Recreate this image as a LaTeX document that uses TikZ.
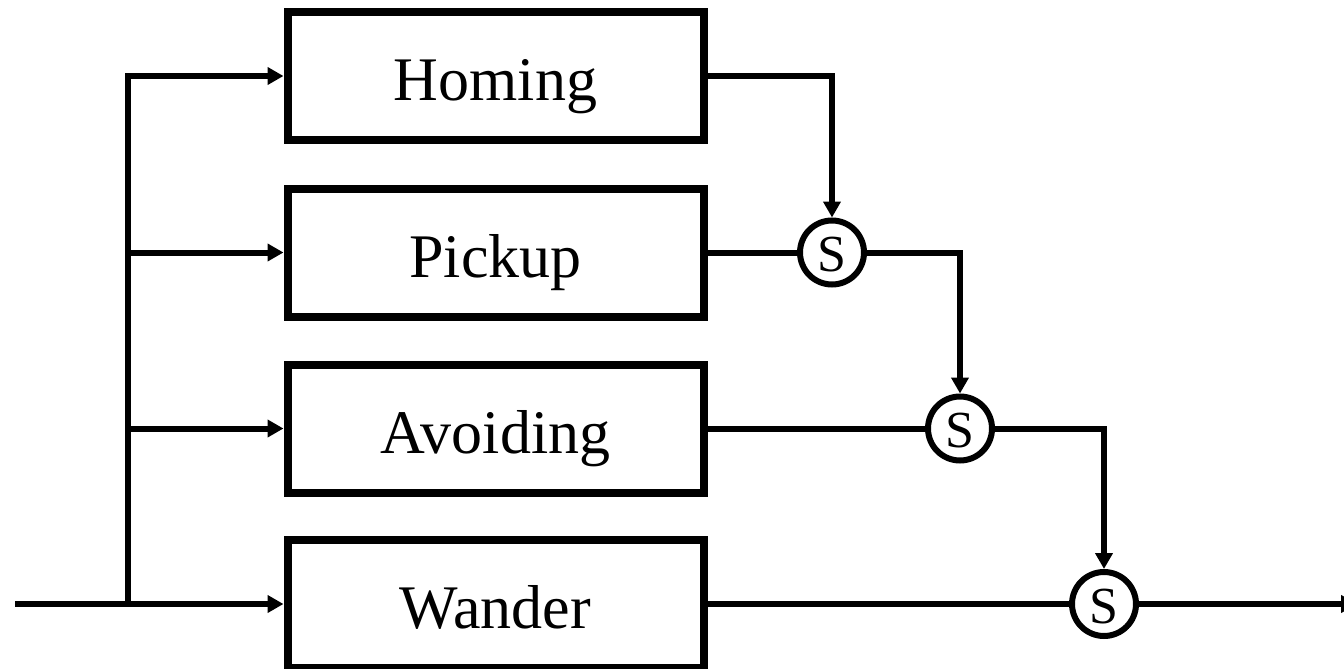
\documentclass[tikz,border=0pt]{standalone}
\usepackage{fontspec}
\setmainfont{Liberation Serif}
\usetikzlibrary{arrows.meta}
\begin{document}
\begin{tikzpicture}[x=1pt,y=-1pt,
  behaviour/.style={draw, line width=8pt, rectangle, minimum width=416pt,
    minimum height=128pt, inner sep=0pt, text height=49pt, text depth=0pt,
    font=\fontsize{62}{70}\selectfont},
  suppress/.style={draw, line width=6pt, circle, minimum size=64pt,
    inner sep=0pt, text height=38pt, text depth=0pt,
    font=\fontsize{52}{60}\selectfont},
  wire/.style={line width=6pt},
  flow/.style={wire, -{Triangle[length=16pt,width=17pt]}}]
\useasboundingbox (0,0) rectangle (1344,669);

% behaviour modules
\node[behaviour] (h) at (495.5,76)    {Homing};
\node[behaviour] (p) at (495.5,252.5) {Pickup};
\node[behaviour] (a) at (495.5,428.5) {Avoiding};
\node[behaviour] (w) at (495.5,604)   {Wander};

% suppression nodes
\node[suppress] (s1) at (832,252.5) {S};
\node[suppress] (s2) at (960,428.5) {S};
\node[suppress] (s3) at (1104,604)  {S};

% sensor input and distribution bus
\coordinate (in)  at (15,604);
\coordinate (bus) at (128,604);
\coordinate (out) at (1357,604);
\draw[flow] (in) -- (w.west);
\draw[flow] (bus) |- (h.west);
\draw[flow] (bus) |- (p.west);
\draw[flow] (bus) |- (a.west);

% suppression chain
\draw[flow] (h.east) -| (s1.north);
\draw[wire] (p.east) -- (s1.west);
\draw[flow] (s1.east) -| (s2.north);
\draw[wire] (a.east) -- (s2.west);
\draw[flow] (s2.east) -| (s3.north);
\draw[wire] (w.east) -- (s3.west);
\draw[flow] (s3.east) -- (out);
\end{tikzpicture}
\end{document}
